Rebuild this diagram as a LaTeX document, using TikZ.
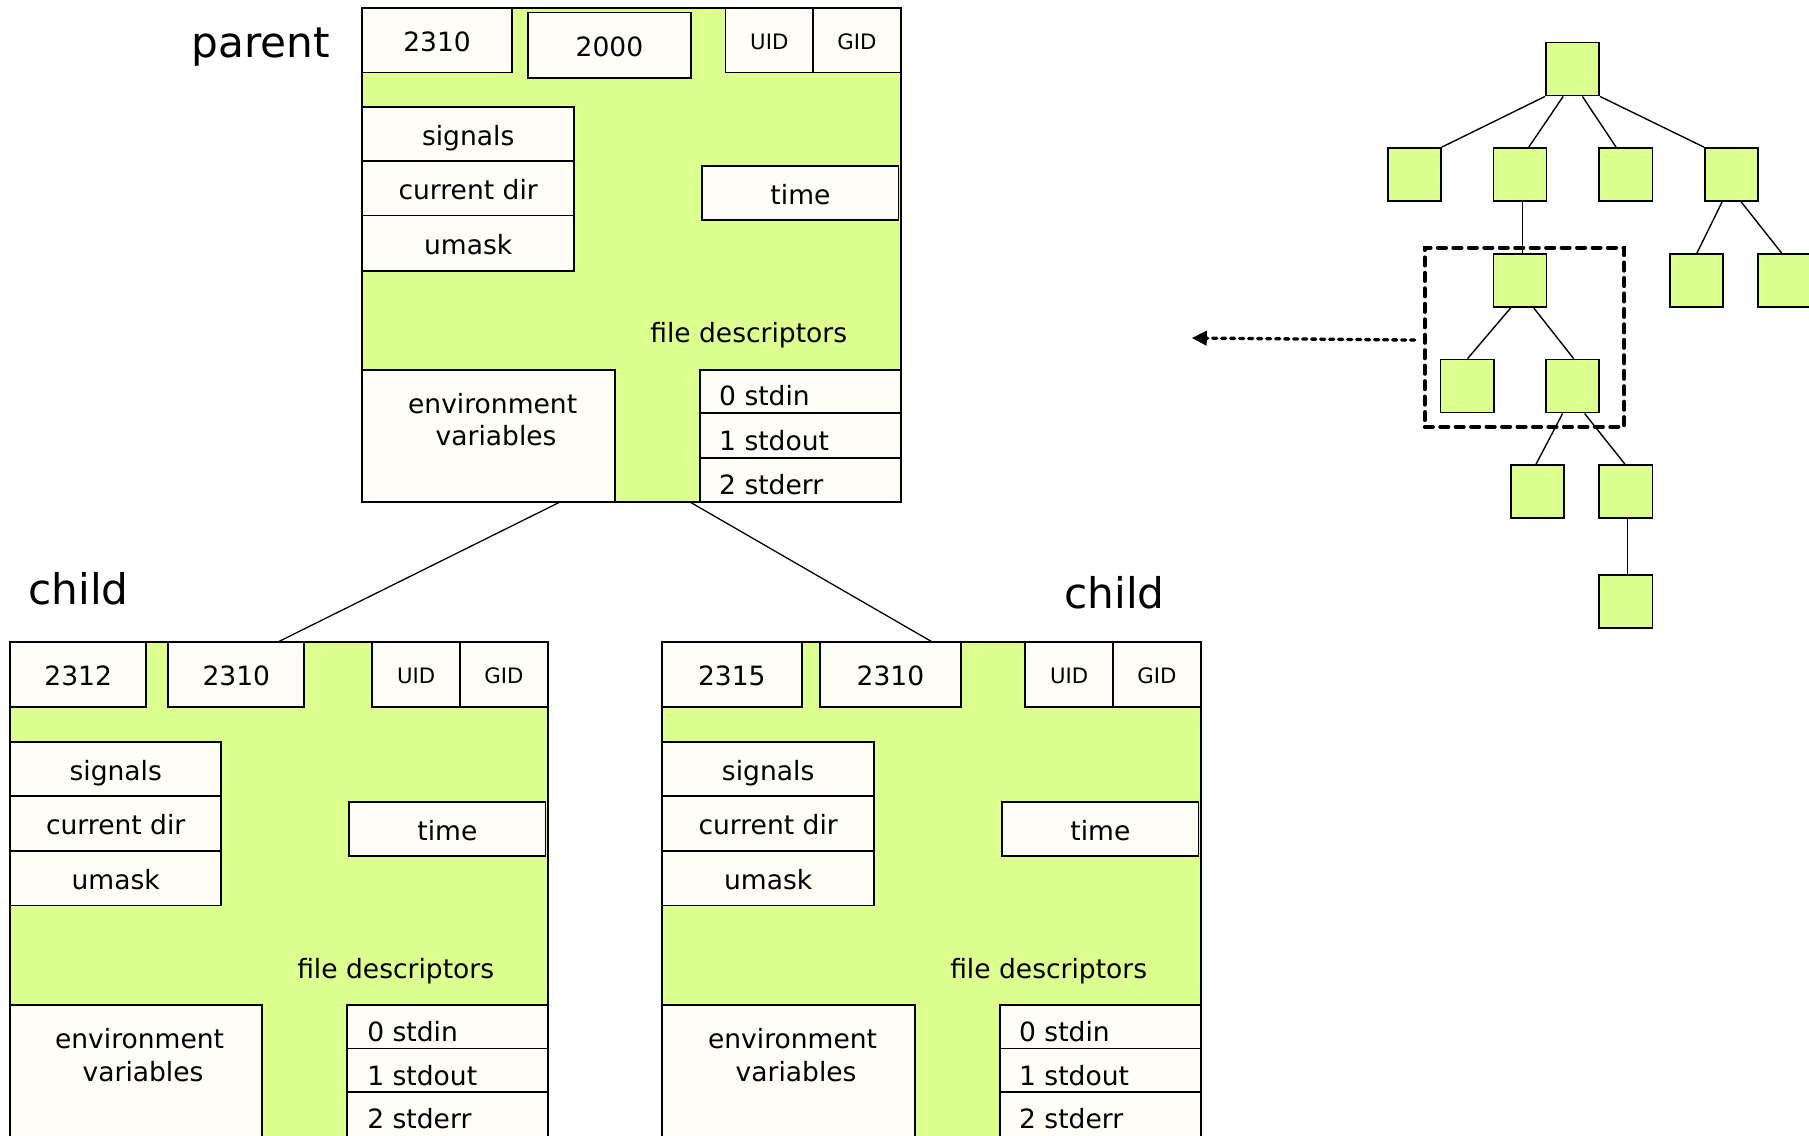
\documentclass[tikz,border=0pt]{standalone}
\usepackage{fontspec}
\setmainfont{DejaVu Sans}
\usetikzlibrary{arrows.meta,calc}

\definecolor{procgreen}{RGB}{221,255,143}
\definecolor{cellfill}{RGB}{254,254,246}

\tikzset{
  block/.style={draw=black, line width=0.8pt, fill=procgreen, inner sep=0pt},
  cell/.style={draw=black, line width=0.8pt, fill=cellfill, inner sep=0pt,
    font=\fontsize{11.5}{14.3}\selectfont, text height=11pt, text depth=1.2pt},
  idcell/.style={cell, font=\fontsize{9.2}{11}\selectfont, text height=8.8pt, text depth=0.9pt},
  txt/.style={inner sep=0pt, font=\fontsize{11.5}{14.3}\selectfont, anchor=base},
  fdtxt/.style={txt, anchor=base west},
  title/.style={inner sep=0pt, font=\fontsize{18.3}{22}\selectfont, anchor=base},
  link/.style={draw=black, line width=0.55pt},
  tnode/.style={draw=black, line width=0.8pt, fill=procgreen, inner sep=0pt,
    minimum size=23pt, anchor=north west},
  tlink/.style={draw=black, line width=0.6pt},
  selbox/.style={draw=black, line width=1.75pt, dash pattern=on 3.5pt off 3.2pt,
    line cap=round, inner sep=0pt},
  pointer/.style={draw=black, line width=1.45pt, dash pattern=on 1.75pt off 2.15pt,
    line cap=round, -{Triangle[length=6.5pt,width=6.2pt]}},
}

% \cellat[style]{name}{x1}{y1}{x2}{y2}{text}: box from top-left (x1,y1) to bottom-right (x2,y2)
\newcommand\cellat[7][cell]{%
  \node[#1, anchor=north west, minimum width={(#5-#3)*0.5pt},
        minimum height={(#6-#4)*0.5pt}] (#2) at (#3,#4) {#7};}

\begin{document}
\begin{tikzpicture}[x=0.5pt,y=-0.5pt]
\fill[white] (0,0) rectangle (1568,984);
\useasboundingbox (0,0) rectangle (1568,984);

% ---------- parent process ----------
\cellat[block]{p}{313}{6}{780}{434}{}
\cellat{ppid}{313}{6}{443}{62}{2310}
\cellat{pppid}{457}{10}{598}{67}{2000}
\cellat[idcell]{puid}{628}{6}{704}{62}{UID}
\cellat[idcell]{pgid}{704}{6}{780}{62}{GID}
\cellat{psig}{313}{92}{497}{139}{signals}
\cellat{pcwd}{313}{139}{497}{186}{current dir}
\cellat{pumask}{313}{186}{497}{234}{umask}
\cellat{ptime}{608}{143}{778}{190}{time}
\node[txt] (pfdl) at (649,297) {file descriptors};
\cellat{penv}{313}{320}{532}{434}{}
\node[txt] (penva) at (427,358) {environment};
\node[txt] (penvb) at (430,386.5) {variables};
\cellat{pfd0}{606}{320}{780}{357}{}
\cellat{pfd1}{606}{357}{780}{396}{}
\cellat{pfd2}{606}{396}{780}{434}{}
\node[fdtxt] (pfd0t) at (623,351.5) {0 stdin};
\node[fdtxt] (pfd1t) at (623,390.5) {1 stdout};
\node[fdtxt] (pfd2t) at (623,428.5) {2 stderr};
\node[title] (ptitle) at (226,50) {parent};

% ---------- first child ----------
\cellat[block]{c1}{8}{556}{474}{984.5}{}
\cellat{c1pid}{8}{556}{126}{612}{2312}
\cellat{c1ppid}{145}{556}{263}{612}{2310}
\cellat[idcell]{c1uid}{322}{556}{398}{612}{UID}
\cellat[idcell]{c1gid}{398}{556}{474}{612}{GID}
\cellat{c1sig}{8}{642}{191}{689}{signals}
\cellat{c1cwd}{8}{689}{191}{737}{current dir}
\cellat{c1umask}{8}{737}{191}{784}{umask}
\cellat{c1time}{302}{694}{472}{741}{time}
\node[txt] (c1fdl) at (343,848) {file descriptors};
\cellat{c1env}{8}{870}{226}{984.5}{}
\node[txt] (c1enva) at (121,908.5) {environment};
\node[txt] (c1envb) at (124,937) {variables};
\cellat{c1fd0}{300}{870}{474}{908}{}
\cellat{c1fd1}{300}{908}{474}{946}{}
\cellat{c1fd2}{300}{946}{474}{984.5}{}
\node[fdtxt] (c1fd0t) at (318,902.5) {0 stdin};
\node[fdtxt] (c1fd1t) at (318,940.5) {1 stdout};
\node[fdtxt] (c1fd2t) at (318,978.5) {2 stderr};
\node[title] (c1title) at (68,524) {child};

% ---------- second child ----------
\cellat[block]{c2}{573}{556}{1040}{984.5}{}
\cellat{c2pid}{573}{556}{694}{612}{2315}
\cellat{c2ppid}{710}{556}{832}{612}{2310}
\cellat[idcell]{c2uid}{888}{556}{964}{612}{UID}
\cellat[idcell]{c2gid}{964}{556}{1040}{612}{GID}
\cellat{c2sig}{573}{642}{757}{689}{signals}
\cellat{c2cwd}{573}{689}{757}{737}{current dir}
\cellat{c2umask}{573}{737}{757}{784}{umask}
\cellat{c2time}{868}{694}{1038}{741}{time}
\node[txt] (c2fdl) at (909,848) {file descriptors};
\cellat{c2env}{573}{870}{792}{984.5}{}
\node[txt] (c2enva) at (687,908.5) {environment};
\node[txt] (c2envb) at (690,937) {variables};
\cellat{c2fd0}{866}{870}{1040}{908}{}
\cellat{c2fd1}{866}{908}{1040}{946}{}
\cellat{c2fd2}{866}{946}{1040}{984.5}{}
\node[fdtxt] (c2fd0t) at (883,902.5) {0 stdin};
\node[fdtxt] (c2fd1t) at (883,940.5) {1 stdout};
\node[fdtxt] (c2fd2t) at (883,978.5) {2 stderr};
\node[title] (c2title) at (966,527) {child};

% ---------- fork links ----------
\draw[link] ($(p.south west)!0.366!(p.south east)$) -- (c1.north);
\draw[link] ($(p.south west)!0.61!(p.south east)$) -- (c2.north);

% ---------- process tree ----------
\node[tnode] (root) at (1339.2,36) {};
\node[tnode] (t2a) at (1202.2,127.5) {};
\node[tnode] (t2b) at (1293.7,127.5) {};
\node[tnode] (t2c) at (1385.5,127.5) {};
\node[tnode] (t2d) at (1476.9,127.5) {};
\node[tnode] (t3a) at (1293.7,219.3) {};
\node[tnode] (t3b) at (1446.6,219.3) {};
\node[tnode] (t3c) at (1522.8,219.3) {};
\node[tnode] (t4a) at (1247.8,310.8) {};
\node[tnode] (t4b) at (1339.2,310.8) {};
\node[tnode] (t5a) at (1308.6,402.2) {};
\node[tnode] (t5b) at (1385.5,402.2) {};
\node[tnode] (t6) at (1385.5,497.5) {};

\draw[tlink] (root.south west) -- (t2a.north east);
\draw[tlink] ($(root.south west)!0.33!(root.south east)$) -- ($(t2b.north west)!0.66!(t2b.north east)$);
\draw[tlink] ($(root.south west)!0.68!(root.south east)$) -- ($(t2c.north west)!0.32!(t2c.north east)$);
\draw[tlink] (root.south east) -- (t2d.north west);
\draw[tlink] ($(t2b.south west)!0.54!(t2b.south east)$) -- ($(t3a.north west)!0.54!(t3a.north east)$);
\draw[tlink] ($(t2d.south west)!0.33!(t2d.south east)$) -- ($(t3b.north west)!0.51!(t3b.north east)$);
\draw[tlink] ($(t2d.south west)!0.68!(t2d.south east)$) -- ($(t3c.north west)!0.45!(t3c.north east)$);
\draw[tlink] ($(t3a.south west)!0.33!(t3a.south east)$) -- ($(t4a.north west)!0.51!(t4a.north east)$);
\draw[tlink] ($(t3a.south west)!0.75!(t3a.south east)$) -- ($(t4b.north west)!0.52!(t4b.north east)$);
\draw[tlink] ($(t4b.south west)!0.32!(t4b.south east)$) -- ($(t5a.north west)!0.48!(t5a.north east)$);
\draw[tlink] ($(t4b.south west)!0.72!(t4b.south east)$) -- ($(t5b.north west)!0.48!(t5b.north east)$);
\draw[tlink] ($(t5b.south west)!0.53!(t5b.south east)$) -- ($(t6.north west)!0.53!(t6.north east)$);

% selected subtree and pointer towards the process blocks
\node[selbox, anchor=north west, minimum width={(1406-1233.2)*0.5pt},
      minimum height={(368.2-213)*0.5pt}] (sel) at (1233.2,213) {};
\coordinate (ptip) at (1033,293);
\draw[pointer] ([shift={(-7,2.4)}]sel.west) -- (ptip);

\end{tikzpicture}
\end{document}
